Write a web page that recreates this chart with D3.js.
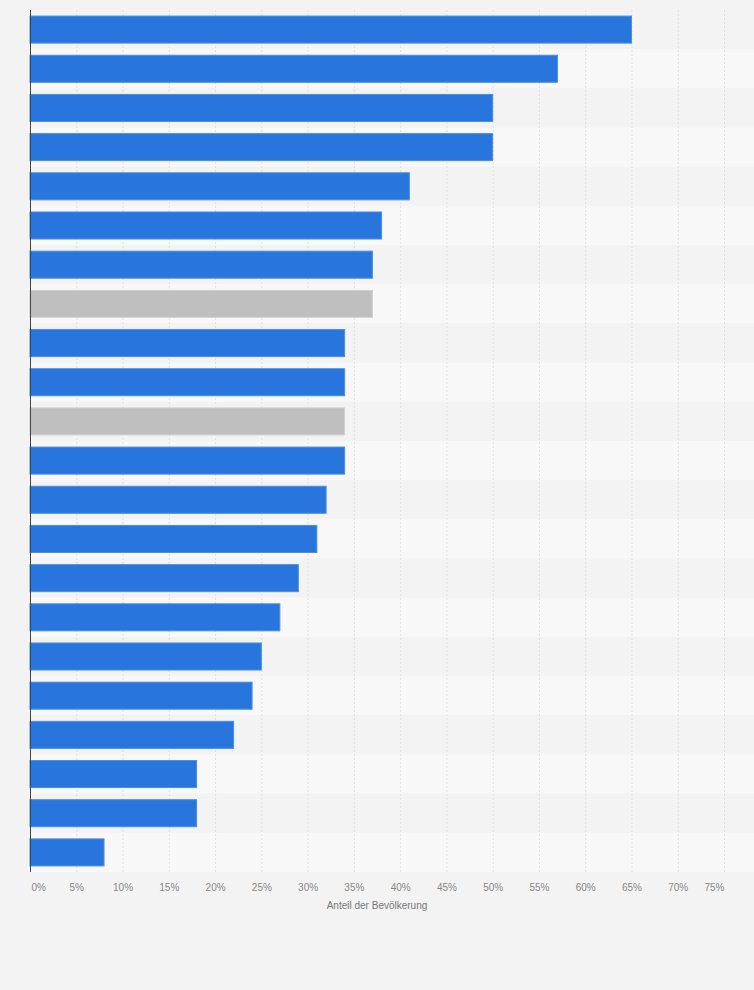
<!DOCTYPE html>
<html>
<head>
<meta charset="utf-8">
<script src="https://cdn.jsdelivr.net/npm/d3@7"></script>
<style>
  html, body { margin: 0; padding: 0; background: #f3f3f3; }
  svg { display: block; font-family: "Liberation Sans", Arial, sans-serif; }
</style>
</head>
<body>
<div id="chart"></div>
<script>
// categories (labels are not shown in the source image)
const categories = ["A1", "A2", "A3", "A4", "A5", "A6", "A7", "A8", "A9", "A10", "A11",
                    "A12", "A13", "A14", "A15", "A16", "A17", "A18", "A19", "A20", "A21", "A22"];
const values = [65, 57, 50, 50, 41, 38, 37, 37, 34, 34, 34, 34, 32, 31, 29, 27, 25, 24, 22, 18, 18, 8];
const highlighted = [false, false, false, false, false, false, false, true, false, false, true,
                     false, false, false, false, false, false, false, false, false, false, false];
const xTicks = [0, 5, 10, 15, 20, 25, 30, 35, 40, 45, 50, 55, 60, 65, 70, 75];
const xTitle = "Anteil der Bevölkerung";

function barchart(container, config) {
    let svgWidth = config.width,
        svgHeight = config.height;
    let margins = {left: 30, top: 10, right: 30, bottom: 118},
        width = svgWidth - margins.left - margins.right,
        height = svgHeight - margins.top - margins.bottom;

    let data = categories.map((c, i) => ({cat: c, value: values[i], grey: highlighted[i]}));

    let x = d3.scaleLinear().domain([0, 75]).range([0, width]),
        y = d3.scaleBand().domain(categories).range([0, height]).paddingInner(0.31).paddingOuter(0.155);
    let band = d3.scaleBand().domain(categories).range([0, height]);

    let svg = d3.select(container).append("svg")
        .attr("width", svgWidth)
        .attr("height", svgHeight);
    let g = svg.append("g")
        .attr("transform", `translate(${margins.left}, ${margins.top})`);

    //Alternating row stripes
    g.append("g").selectAll("rect")
        .data(categories)
        .enter().append("rect")
        .attr("x", 0)
        .attr("y", d => band(d))
        .attr("width", svgWidth - margins.left)
        .attr("height", band.bandwidth())
        .attr("fill", (d, i) => i % 2 ? "#f8f8f8" : "#f3f3f3");

    //Dashed grid lines
    g.append("g").selectAll("line")
        .data(xTicks.slice(1))
        .enter().append("line")
        .attr("x1", d => x(d) + 0.5)
        .attr("x2", d => x(d) + 0.5)
        .attr("y1", 0)
        .attr("y2", height)
        .attr("stroke", "#e0e0e0")
        .attr("stroke-dasharray", "2,2");

    //Bars
    g.append("g").selectAll("rect")
        .data(data)
        .enter().append("rect")
        .attr("x", 0)
        .attr("y", d => y(d.cat))
        .attr("width", d => x(d.value))
        .attr("height", y.bandwidth())
        .attr("fill", d => d.grey ? "#bfbfbf" : "#2876dd")
        .attr("stroke", d => d.grey ? "#d2d2d2" : "#4a8de6")
        .attr("stroke-width", 1);

    //Y axis line
    g.append("line")
        .attr("x1", 0.5).attr("x2", 0.5)
        .attr("y1", 0).attr("y2", height)
        .attr("stroke", "#444")
        .attr("stroke-width", 1);

    //X axis labels
    let axis = g.append("g")
        .attr("transform", `translate(0, ${height})`)
        .call(d3.axisBottom(x).tickValues(xTicks).tickFormat(d => d + "%").tickSize(0).tickPadding(12));
    axis.select(".domain").remove();
    axis.selectAll("text")
        .attr("fill", "#888")
        .attr("font-size", 10)
        .attr("text-anchor", (d, i) => i === 0 ? "start" : (i === xTicks.length - 1 ? "end" : "middle"))
        .attr("dx", (d, i) => i === 0 ? 1 : 0);

    //Axis title
    g.append("text")
        .attr("x", width / 2)
        .attr("y", height + 37)
        .attr("text-anchor", "middle")
        .attr("fill", "#777")
        .attr("font-size", 10)
        .text(xTitle);
}

barchart("#chart", {width: 754, height: 990});
</script>
</body>
</html>
